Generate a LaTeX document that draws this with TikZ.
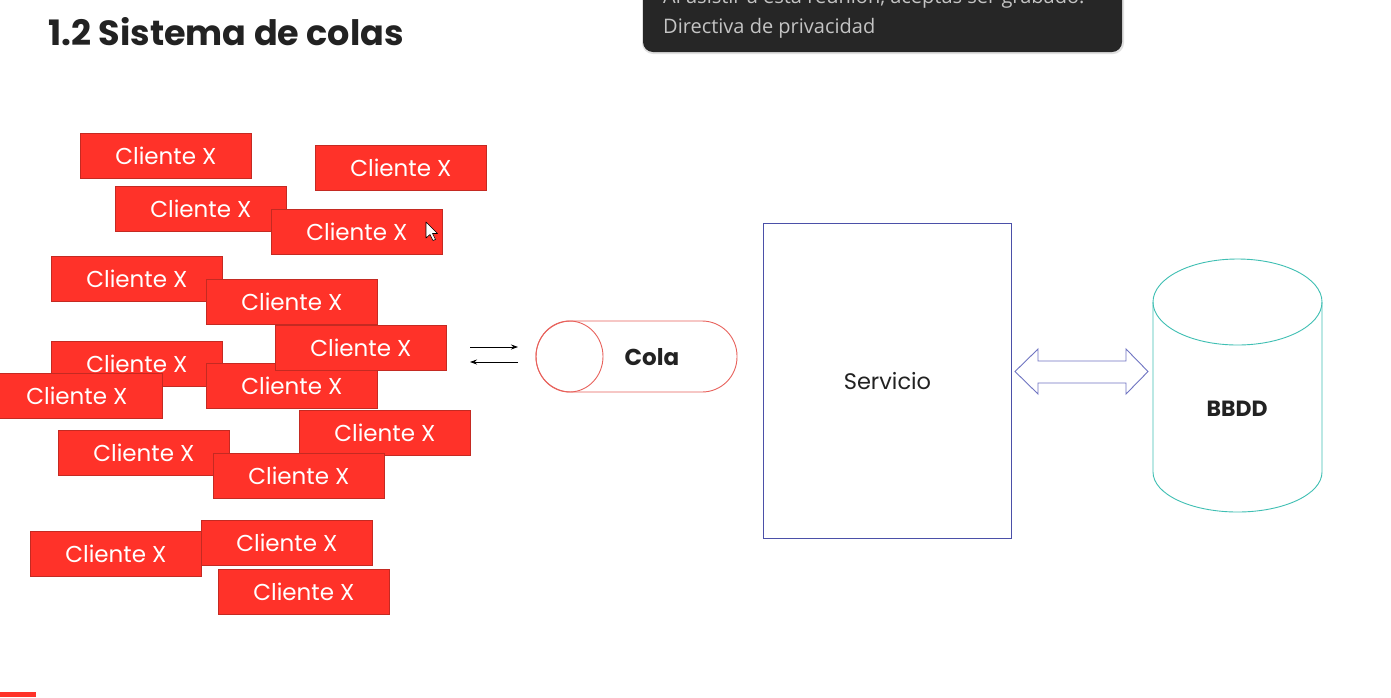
\documentclass[tikz,border=0pt]{standalone}
\usepackage{fontspec}
\setmainfont{Poppins}
\newfontfamily\uifont{Open Sans}
\usetikzlibrary{arrows.meta,shapes.geometric}
\definecolor{cred}{HTML}{FF3229}
\definecolor{credge}{HTML}{C42A22}
\definecolor{colared}{HTML}{E8625C}
\definecolor{srvblue}{HTML}{4B50A8}
\definecolor{arrblue}{HTML}{6F74C2}
\definecolor{dbteal}{HTML}{3FBFB3}
\definecolor{tipbg}{HTML}{262626}
\definecolor{tipgray}{HTML}{C4C4C4}
\definecolor{titlegray}{HTML}{222222}
\begin{document}
\begin{tikzpicture}[x=1pt,y=-1pt,
  client/.style={draw=credge, fill=cred, line width=0.8pt, minimum width=171pt,
    minimum height=45pt, inner sep=0pt, text=white, anchor=north west,
    font=\fontsize{23}{26}\selectfont},
  thinarrow/.style={-{Stealth[length=7pt,width=5pt]}, line width=0.8pt, black}]
\useasboundingbox (0,0) rectangle (1391,697);
\fill[white] (0,0) rectangle (1391,697);
% title
\node[anchor=base west, font=\bfseries\fontsize{35}{40}\selectfont, text=titlegray, inner sep=0pt] (title) at (48,45) {1.2 Sistema de colas};
% tooltip
\fill[black!12, rounded corners=11pt] (642,-20) rectangle (1124,54);
\fill[tipbg, rounded corners=10pt] (643,-20) rectangle (1122,52);
\begin{scope}
\clip (643,0) rectangle (1122,52);
\node[anchor=base west, inner sep=0pt, text=tipgray, font=\uifont\fontsize{20}{23}\selectfont] (tip1) at (663,3) {Al asistir a esta reunión, aceptas ser grabado.};
\end{scope}
\node[anchor=base west, inner sep=0pt, text=tipgray, font=\uifont\fontsize{20}{23}\selectfont] (tip2) at (663,33) {Directiva de privacidad};
% clients
\node[client] (c1) at (80,133) {Cliente X};
\node[client] (c2) at (315,145) {Cliente X};
\node[client] (c3) at (115,186) {Cliente X};
\node[client] (c4) at (271,209) {Cliente X};
\node[client] (c5) at (51,256) {Cliente X};
\node[client] (c6) at (206,279) {Cliente X};
\node[client] (c7) at (51,341) {Cliente X};
\node[client] (c8) at (-9,373) {Cliente X};
\node[client] (c9) at (206,363) {Cliente X};
\node[client] (c10) at (275,325) {Cliente X};
\node[client] (c11) at (58,430) {Cliente X};
\node[client] (c12) at (299,410) {Cliente X};
\node[client] (c13) at (213,453) {Cliente X};
\node[client] (c14) at (30,531) {Cliente X};
\node[client] (c15) at (201,520) {Cliente X};
\node[client] (c16) at (218,569) {Cliente X};
% cursor
\draw[fill=white, line width=0.6pt, line join=round] (426,222) -- (426,238) -- (430,234.5) -- (433,240.5) -- (435.5,239.5) -- (432.5,233.5) -- (437.5,233.5) -- cycle;
% arrows to queue
\coordinate (a1s) at (470,347);
\coordinate (a1e) at (518,347);
\coordinate (a2s) at (518,362);
\coordinate (a2e) at (470,362);
\draw[thinarrow] (a1s) -- (a1e);
\draw[thinarrow] (a2s) -- (a2e);
% queue
\node[draw=colared, line width=0.9pt, rounded corners=35pt, minimum width=201pt, minimum height=71pt, inner sep=0pt] (cola) at (636.5,356.5) {};
\node[draw=colared, line width=0.9pt, ellipse, minimum width=67pt, minimum height=71pt, inner sep=0pt] (colac) at (569.5,356.5) {};
\node[font=\bfseries\fontsize{23}{26}\selectfont, text=titlegray] (colat) at (652,357) {Cola};
% servicio
\node[draw=srvblue, line width=0.9pt, minimum width=248pt, minimum height=315pt, anchor=north west, inner sep=0pt, font=\fontsize{22.5}{26}\selectfont, text=titlegray] (srv) at (763,223) {Servicio};
% double arrow
\draw[arrblue, line width=0.9pt, line join=miter] (1015,371.5) -- (1038,349) -- (1038,361) -- (1126,361) -- (1126,349) -- (1148,371.5) -- (1126,394) -- (1126,383) -- (1038,383) -- (1038,394) -- cycle;
% database
\draw[dbteal, line width=0.9pt] (1153,302) -- (1153,472) arc[start angle=180, end angle=360, x radius=84.5pt, y radius=40pt] -- (1322,302);
\draw[dbteal, line width=0.9pt] (1237.5,302) ellipse [x radius=84.5pt, y radius=43pt];
\node[font=\bfseries\fontsize{22}{26}\selectfont, text=titlegray] (db) at (1237,409) {BBDD};
% red bar
\fill[cred] (0,692) rectangle (36,697);
\end{tikzpicture}
\end{document}
